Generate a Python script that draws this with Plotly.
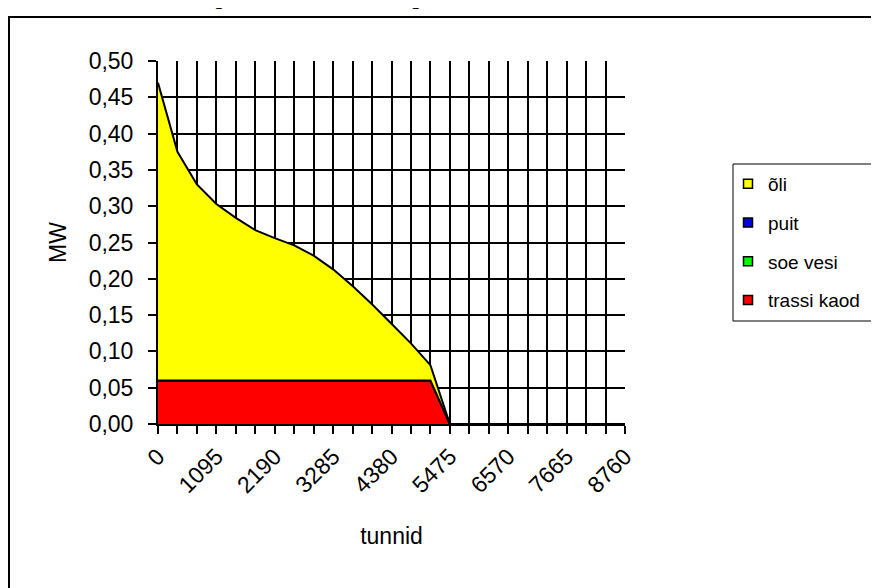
import plotly.graph_objects as go

# ---- data ----
hours = [0, 365, 730, 1095, 1460, 1825, 2190, 2555, 2920, 3285, 3650, 4015, 4380,
         4745, 5110, 5475, 5840, 6205, 6570, 6935, 7300, 7665, 8030, 8395, 8760]
trassi_kaod = [0.06, 0.06, 0.06, 0.06, 0.06, 0.06, 0.06, 0.06, 0.06, 0.06, 0.06, 0.06, 0.06,
               0.06, 0.06, 0, 0, 0, 0, 0, 0, 0, 0, 0, 0]
soe_vesi = [0, 0, 0, 0, 0, 0, 0, 0, 0, 0, 0, 0, 0, 0, 0, 0, 0, 0, 0, 0, 0, 0, 0, 0, 0]
puit = [0, 0, 0, 0, 0, 0, 0, 0, 0, 0, 0, 0, 0, 0, 0, 0, 0, 0, 0, 0, 0, 0, 0, 0, 0]
oli = [0.410, 0.315, 0.270, 0.243, 0.224, 0.207, 0.196, 0.186, 0.172, 0.153, 0.130, 0.105,
       0.078, 0.051, 0.021, 0, 0, 0, 0, 0, 0, 0, 0, 0, 0]
x_tickvals = [0, 1095, 2190, 3285, 4380, 5475, 6570, 7665, 8760]
x_ticktext = ["0", "1095", "2190", "3285", "4380", "5475", "6570", "7665", "8760"]

series = [("trassi kaod", trassi_kaod, "#FF0000"),
          ("soe vesi", soe_vesi, "#00FF00"),
          ("puit", puit, "#0000FF"),
          ("õli", oli, "#FFFF00")]

W, H = 879, 588
OFF = 8  # page body margin
# plot area in screen pixels: x 158..625, y 61..424
L, T = 158 - OFF, 61 - OFF
PW, PH = 467, 363
R = W - L - PW
B = H - T - PH


def px(X):
    return (X - 158) / PW


def py(Y):
    return (424 - Y) / PH


FONT = "Liberation Sans, Arial, sans-serif"

fig = go.Figure()
for name, vals, col in series:
    fig.add_trace(go.Scatter(x=hours, y=vals, name=name, stackgroup="one", mode="lines",
                             line=dict(color="black", width=2), fillcolor=col,
                             showlegend=False, hoverinfo="skip"))
# legend entries (small squares like the original)
for i, (name, vals, col) in enumerate(reversed(series)):
    fig.add_trace(go.Scatter(x=[None], y=[None], mode="markers", name=name,
                             legendgroup="g%d" % i,
                             marker=dict(symbol="square", size=9, color=col,
                                         line=dict(color="black", width=1.5))))

fig.update_layout(
    width=W, height=H,
    margin=dict(l=L, r=R, t=T, b=B, pad=0),
    paper_bgcolor="white", plot_bgcolor="white",
    separators=", ",
    font=dict(family=FONT, color="black", size=23),
    showlegend=True,
    legend=dict(x=px(728), y=py(165), xanchor="left", yanchor="top",
                bgcolor="rgba(0,0,0,0)", borderwidth=0,
                font=dict(family=FONT, size=19, color="black"),
                tracegroupgap=11, itemwidth=30),
    xaxis=dict(range=[0, 8760], tickvals=x_tickvals, ticktext=x_ticktext,
               tickangle=-45, ticks="outside", ticklen=8, tickwidth=1.5, tickcolor="black",
               showgrid=True, gridcolor="black", gridwidth=1.5,
               minor=dict(tick0=0, dtick=365, showgrid=True, gridcolor="black", gridwidth=1.5,
                          ticks="outside", ticklen=8, tickwidth=1.5, tickcolor="black"),
               showline=True, linecolor="black", linewidth=2, zeroline=False,
               tickfont=dict(size=23),
               title=dict(text="tunnid", font=dict(size=23), standoff=31)),
    yaxis=dict(range=[0, 0.5], dtick=0.05, tick0=0, tickformat=".2f",
               ticks="outside", ticklen=8, tickwidth=1.5, tickcolor="black",
               showgrid=True, gridcolor="black", gridwidth=1.5,
               showline=True, linecolor="black", linewidth=2, zeroline=False,
               tickfont=dict(size=23), ticklabelstandoff=10,
               title=dict(text="MW", font=dict(size=23), standoff=16)),
    shapes=[
        dict(type="rect", xref="paper", yref="paper", x0=px(9), x1=px(900),
             y0=py(17), y1=py(620), line=dict(color="black", width=2), layer="below"),
        dict(type="rect", xref="paper", yref="paper", x0=px(733), x1=px(874),
             y0=py(164), y1=py(321), line=dict(color="black", width=1)),
    ],
    annotations=[
        dict(text="<b>Kaugkütte koormuse kestusgraafik</b>", xref="paper", yref="paper",
             x=px(180), y=py(11.5), xanchor="left", yanchor="bottom", showarrow=False,
             font=dict(family="DejaVu Serif, serif", size=14.5, color="black")),
    ],
)

fig.write_html("out.html")
